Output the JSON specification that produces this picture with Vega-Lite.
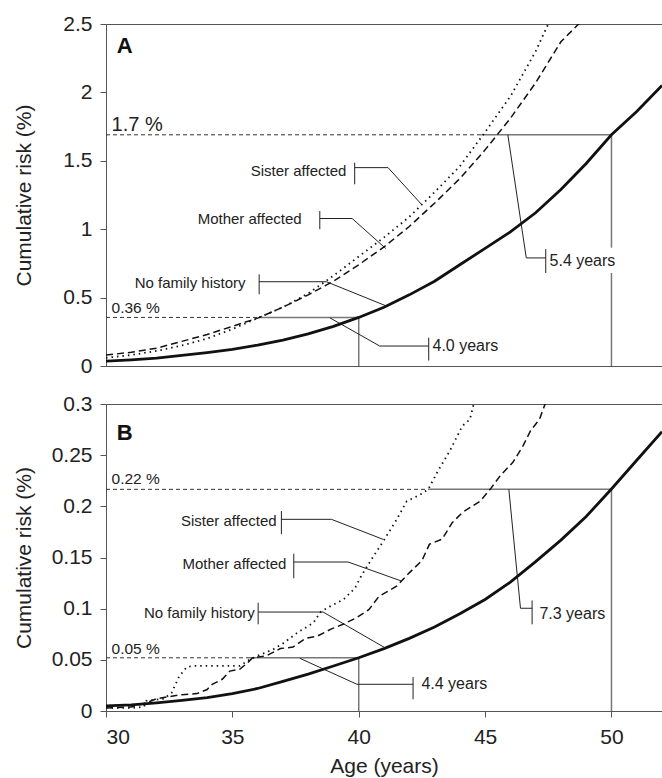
{
"$schema": "https://vega.github.io/schema/vega-lite/v6.json",
"padding": {"left": 12, "top": 12, "right": 0, "bottom": 0},
"config": {
  "font": "Liberation Sans",
  "view": {"stroke": "#555", "strokeWidth": 1},
  "axis": {"labelFont": "Liberation Sans", "titleFont": "Liberation Sans", "labelFontSize": 21, "titleFontSize": 21, "labelColor": "#222", "titleColor": "#222", "titleFontWeight": "normal", "domainColor": "#555", "tickColor": "#555", "grid": false, "tickSize": 6, "labelPadding": 8}
},
"spacing": 38,
"bounds": "flush",
"datasets": {
  "curvesA": [
    {"group":"No family history","age":30,"risk":0.035},{"group":"No family history","age":31,"risk":0.045},{"group":"No family history","age":32,"risk":0.058},{"group":"No family history","age":33,"risk":0.077},{"group":"No family history","age":34,"risk":0.098},{"group":"No family history","age":35,"risk":0.122},{"group":"No family history","age":36,"risk":0.153},{"group":"No family history","age":37,"risk":0.19},{"group":"No family history","age":38,"risk":0.235},{"group":"No family history","age":39,"risk":0.29},{"group":"No family history","age":40,"risk":0.355},{"group":"No family history","age":41,"risk":0.43},{"group":"No family history","age":42,"risk":0.52},{"group":"No family history","age":43,"risk":0.62},{"group":"No family history","age":44,"risk":0.74},{"group":"No family history","age":45,"risk":0.86},{"group":"No family history","age":46,"risk":0.98},{"group":"No family history","age":47,"risk":1.12},{"group":"No family history","age":48,"risk":1.29},{"group":"No family history","age":49,"risk":1.48},{"group":"No family history","age":50,"risk":1.69},{"group":"No family history","age":51,"risk":1.86},{"group":"No family history","age":52,"risk":2.05},
    {"group":"Sister affected","age":30,"risk":0.06},{"group":"Sister affected","age":31,"risk":0.08},{"group":"Sister affected","age":32,"risk":0.11},{"group":"Sister affected","age":33,"risk":0.15},{"group":"Sister affected","age":34,"risk":0.2},{"group":"Sister affected","age":35,"risk":0.27},{"group":"Sister affected","age":36,"risk":0.35},{"group":"Sister affected","age":37,"risk":0.43},{"group":"Sister affected","age":38,"risk":0.53},{"group":"Sister affected","age":39,"risk":0.66},{"group":"Sister affected","age":40,"risk":0.8},{"group":"Sister affected","age":41,"risk":0.94},{"group":"Sister affected","age":42,"risk":1.09},{"group":"Sister affected","age":43,"risk":1.27},{"group":"Sister affected","age":44,"risk":1.46},{"group":"Sister affected","age":45,"risk":1.71},{"group":"Sister affected","age":46,"risk":1.97},{"group":"Sister affected","age":47,"risk":2.3},{"group":"Sister affected","age":47.5,"risk":2.5},{"group":"Sister affected","age":48,"risk":2.75},
    {"group":"Mother affected","age":30,"risk":0.08},{"group":"Mother affected","age":31,"risk":0.1},{"group":"Mother affected","age":32,"risk":0.13},{"group":"Mother affected","age":33,"risk":0.18},{"group":"Mother affected","age":34,"risk":0.23},{"group":"Mother affected","age":35,"risk":0.29},{"group":"Mother affected","age":36,"risk":0.35},{"group":"Mother affected","age":37,"risk":0.43},{"group":"Mother affected","age":38,"risk":0.52},{"group":"Mother affected","age":39,"risk":0.62},{"group":"Mother affected","age":40,"risk":0.74},{"group":"Mother affected","age":41,"risk":0.87},{"group":"Mother affected","age":42,"risk":1.02},{"group":"Mother affected","age":43,"risk":1.19},{"group":"Mother affected","age":44,"risk":1.37},{"group":"Mother affected","age":45,"risk":1.58},{"group":"Mother affected","age":46,"risk":1.81},{"group":"Mother affected","age":47,"risk":2.07},{"group":"Mother affected","age":48,"risk":2.37},{"group":"Mother affected","age":48.7,"risk":2.5},{"group":"Mother affected","age":49,"risk":2.62}
  ],
  "curvesB": [
    {"group":"No family history","age":30,"risk":0.005},{"group":"No family history","age":31,"risk":0.006},{"group":"No family history","age":32,"risk":0.008},{"group":"No family history","age":33,"risk":0.0103},{"group":"No family history","age":34,"risk":0.013},{"group":"No family history","age":35,"risk":0.017},{"group":"No family history","age":36,"risk":0.022},{"group":"No family history","age":37,"risk":0.029},{"group":"No family history","age":38,"risk":0.036},{"group":"No family history","age":39,"risk":0.044},{"group":"No family history","age":40,"risk":0.052},{"group":"No family history","age":41,"risk":0.061},{"group":"No family history","age":42,"risk":0.071},{"group":"No family history","age":43,"risk":0.082},{"group":"No family history","age":44,"risk":0.095},{"group":"No family history","age":45,"risk":0.109},{"group":"No family history","age":46,"risk":0.126},{"group":"No family history","age":47,"risk":0.146},{"group":"No family history","age":48,"risk":0.167},{"group":"No family history","age":49,"risk":0.19},{"group":"No family history","age":50,"risk":0.217},{"group":"No family history","age":51,"risk":0.245},{"group":"No family history","age":52,"risk":0.273},
    {"group":"Sister affected","age":30,"risk":0.003},{"group":"Sister affected","age":31,"risk":0.003},{"group":"Sister affected","age":31.5,"risk":0.004},{"group":"Sister affected","age":31.6,"risk":0.01},{"group":"Sister affected","age":32.3,"risk":0.012},{"group":"Sister affected","age":32.6,"risk":0.018},{"group":"Sister affected","age":32.9,"risk":0.034},{"group":"Sister affected","age":33.2,"risk":0.043},{"group":"Sister affected","age":33.5,"risk":0.044},{"group":"Sister affected","age":35.3,"risk":0.044},{"group":"Sister affected","age":35.6,"risk":0.049},{"group":"Sister affected","age":36,"risk":0.054},{"group":"Sister affected","age":36.6,"risk":0.06},{"group":"Sister affected","age":37,"risk":0.066},{"group":"Sister affected","age":37.6,"risk":0.077},{"group":"Sister affected","age":38.2,"risk":0.086},{"group":"Sister affected","age":38.5,"risk":0.097},{"group":"Sister affected","age":38.85,"risk":0.102},{"group":"Sister affected","age":39.4,"risk":0.109},{"group":"Sister affected","age":39.85,"risk":0.12},{"group":"Sister affected","age":40.1,"risk":0.132},{"group":"Sister affected","age":40.5,"risk":0.148},{"group":"Sister affected","age":41,"risk":0.167},{"group":"Sister affected","age":41.5,"risk":0.187},{"group":"Sister affected","age":41.9,"risk":0.205},{"group":"Sister affected","age":42.4,"risk":0.211},{"group":"Sister affected","age":42.75,"risk":0.2166},{"group":"Sister affected","age":43.1,"risk":0.233},{"group":"Sister affected","age":43.6,"risk":0.254},{"group":"Sister affected","age":44.1,"risk":0.2785},{"group":"Sister affected","age":44.4,"risk":0.285},{"group":"Sister affected","age":44.55,"risk":0.3},{"group":"Sister affected","age":44.7,"risk":0.31},
    {"group":"Mother affected","age":30,"risk":0.003},{"group":"Mother affected","age":31,"risk":0.004},{"group":"Mother affected","age":31.6,"risk":0.008},{"group":"Mother affected","age":32,"risk":0.012},{"group":"Mother affected","age":32.5,"risk":0.014},{"group":"Mother affected","age":33,"risk":0.016},{"group":"Mother affected","age":33.6,"risk":0.017},{"group":"Mother affected","age":34,"risk":0.021},{"group":"Mother affected","age":34.2,"risk":0.026},{"group":"Mother affected","age":34.6,"risk":0.031},{"group":"Mother affected","age":34.9,"risk":0.039},{"group":"Mother affected","age":35.3,"risk":0.041},{"group":"Mother affected","age":35.6,"risk":0.047},{"group":"Mother affected","age":35.8,"risk":0.052},{"group":"Mother affected","age":36.35,"risk":0.054},{"group":"Mother affected","age":36.9,"risk":0.061},{"group":"Mother affected","age":37.4,"risk":0.0625},{"group":"Mother affected","age":37.9,"risk":0.071},{"group":"Mother affected","age":38.35,"risk":0.073},{"group":"Mother affected","age":38.9,"risk":0.08},{"group":"Mother affected","age":39.4,"risk":0.085},{"group":"Mother affected","age":39.9,"risk":0.091},{"group":"Mother affected","age":40.4,"risk":0.099},{"group":"Mother affected","age":40.8,"risk":0.112},{"group":"Mother affected","age":41.5,"risk":0.122},{"group":"Mother affected","age":42,"risk":0.135},{"group":"Mother affected","age":42.5,"risk":0.147},{"group":"Mother affected","age":42.8,"risk":0.163},{"group":"Mother affected","age":43.3,"risk":0.168},{"group":"Mother affected","age":43.7,"risk":0.184},{"group":"Mother affected","age":44.1,"risk":0.194},{"group":"Mother affected","age":44.8,"risk":0.205},{"group":"Mother affected","age":45.2,"risk":0.2166},{"group":"Mother affected","age":45.6,"risk":0.23},{"group":"Mother affected","age":46.1,"risk":0.243},{"group":"Mother affected","age":46.5,"risk":0.259},{"group":"Mother affected","age":46.8,"risk":0.274},{"group":"Mother affected","age":47.15,"risk":0.285},{"group":"Mother affected","age":47.45,"risk":0.305}
  ],
  "segmentsA": [
    {"kind":"reference","age":30,"risk":1.69,"age2":44.85,"risk2":1.69},
    {"kind":"reference","age":30,"risk":0.355,"age2":36.05,"risk2":0.355},
    {"kind":"guide","age":44.85,"risk":1.69,"age2":50,"risk2":1.69},
    {"kind":"guide","age":50,"risk":0,"age2":50,"risk2":0.68},
    {"kind":"guide","age":50,"risk":0.865,"age2":50,"risk2":1.69},
    {"kind":"guide","age":36.05,"risk":0.355,"age2":40,"risk2":0.355},
    {"kind":"guide","age":40,"risk":0,"age2":40,"risk2":0.355},
    {"kind":"leader","age":45.9,"risk":1.69,"age2":46.63,"risk2":0.79},
    {"kind":"leader","age":46.63,"risk":0.79,"age2":47.4,"risk2":0.79},
    {"kind":"leader","age":47.4,"risk":0.68,"age2":47.4,"risk2":0.855},
    {"kind":"leader","age":38.85,"risk":0.353,"age2":40.83,"risk2":0.146},
    {"kind":"leader","age":40.83,"risk":0.146,"age2":42.77,"risk2":0.146},
    {"kind":"leader","age":42.77,"risk":0.04,"age2":42.77,"risk2":0.207},
    {"kind":"leader","age":39.84,"risk":1.328,"age2":39.84,"risk2":1.486},
    {"kind":"leader","age":39.84,"risk":1.45,"age2":41.16,"risk2":1.45},
    {"kind":"leader","age":41.16,"risk":1.45,"age2":42.48,"risk2":1.182},
    {"kind":"leader","age":38.46,"risk":1.0,"age2":38.46,"risk2":1.133},
    {"kind":"leader","age":38.46,"risk":1.078,"age2":39.74,"risk2":1.078},
    {"kind":"leader","age":39.74,"risk":1.078,"age2":41.07,"risk2":0.859},
    {"kind":"leader","age":36.06,"risk":0.524,"age2":36.06,"risk2":0.67},
    {"kind":"leader","age":36.06,"risk":0.616,"age2":38.72,"risk2":0.616},
    {"kind":"leader","age":38.72,"risk":0.616,"age2":41.09,"risk2":0.439}
  ],
  "segmentsB": [
    {"kind":"reference","age":30,"risk":0.2166,"age2":42.74,"risk2":0.2166},
    {"kind":"reference","age":30,"risk":0.052,"age2":35.7,"risk2":0.052},
    {"kind":"guide","age":42.74,"risk":0.2166,"age2":50,"risk2":0.2166},
    {"kind":"guide","age":50,"risk":0,"age2":50,"risk2":0.2166},
    {"kind":"guide","age":35.7,"risk":0.052,"age2":40,"risk2":0.052},
    {"kind":"guide","age":40,"risk":0,"age2":40,"risk2":0.052},
    {"kind":"leader","age":45.94,"risk":0.2166,"age2":46.4,"risk2":0.1004},
    {"kind":"leader","age":46.4,"risk":0.1004,"age2":46.86,"risk2":0.1004},
    {"kind":"leader","age":46.86,"risk":0.0847,"age2":46.86,"risk2":0.108},
    {"kind":"leader","age":37.67,"risk":0.0515,"age2":39.93,"risk2":0.0261},
    {"kind":"leader","age":39.93,"risk":0.0261,"age2":42.15,"risk2":0.0261},
    {"kind":"leader","age":42.15,"risk":0.0114,"age2":42.15,"risk2":0.0332},
    {"kind":"leader","age":36.94,"risk":0.1727,"age2":36.94,"risk2":0.1954},
    {"kind":"leader","age":36.94,"risk":0.1873,"age2":38.92,"risk2":0.1873},
    {"kind":"leader","age":38.92,"risk":0.1873,"age2":40.96,"risk2":0.1678},
    {"kind":"leader","age":37.43,"risk":0.1297,"age2":37.43,"risk2":0.1537},
    {"kind":"leader","age":37.43,"risk":0.1456,"age2":39.58,"risk2":0.1456},
    {"kind":"leader","age":39.58,"risk":0.1456,"age2":41.69,"risk2":0.127},
    {"kind":"leader","age":36.02,"risk":0.0847,"age2":36.02,"risk2":0.1058},
    {"kind":"leader","age":36.02,"risk":0.0967,"age2":38.59,"risk2":0.0967},
    {"kind":"leader","age":38.59,"risk":0.0967,"age2":41.03,"risk2":0.0619}
  ],
  "labelsA": [
    {"kind":"panel","label":"A","age":30.43,"risk":2.34},
    {"kind":"threshold-large","label":"1.7 %","age":30.22,"risk":1.76},
    {"kind":"threshold","label":"0.36 %","age":30.22,"risk":0.426},
    {"kind":"series","label":"Sister affected","age":39.51,"risk":1.425},
    {"kind":"series","label":"Mother affected","age":37.74,"risk":1.072},
    {"kind":"series","label":"No family history","age":35.52,"risk":0.609},
    {"kind":"interval","label":"5.4 years","age":47.55,"risk":0.768},
    {"kind":"interval","label":"4.0 years","age":42.92,"risk":0.146}
  ],
  "labelsB": [
    {"kind":"panel","label":"B","age":30.43,"risk":0.272},
    {"kind":"threshold","label":"0.22 %","age":30.22,"risk":0.2264},
    {"kind":"threshold","label":"0.05 %","age":30.22,"risk":0.0603},
    {"kind":"series","label":"Sister affected","age":36.75,"risk":0.1857},
    {"kind":"series","label":"Mother affected","age":37.14,"risk":0.144},
    {"kind":"series","label":"No family history","age":35.89,"risk":0.096},
    {"kind":"interval","label":"7.3 years","age":47.15,"risk":0.095},
    {"kind":"interval","label":"4.4 years","age":42.48,"risk":0.0264}
  ]
},
"vconcat": [
  {
    "width": 556, "height": 342,
    "encoding": {
      "x": {"field": "age", "type": "quantitative", "scale": {"domain": [30, 52], "nice": false, "zero": false}, "axis": {"title": null, "labels": false, "ticks": false}},
      "y": {"field": "risk", "type": "quantitative", "scale": {"domain": [0, 2.5], "nice": false}, "axis": {"title": "Cumulative risk (%)", "values": [0, 0.5, 1, 1.5, 2, 2.5], "format": "~g", "titleX": -72}}
    },
    "layer": [
      {"data": {"name": "segmentsA"}, "transform": [{"filter": "datum.kind === 'reference'"}], "mark": {"type": "rule", "color": "#333", "strokeWidth": 1, "strokeDash": [4, 3]}, "encoding": {"x2": {"field": "age2"}, "y2": {"field": "risk2"}}},
      {"data": {"name": "segmentsA"}, "transform": [{"filter": "datum.kind === 'guide'"}], "mark": {"type": "rule", "color": "#777", "strokeWidth": 1.5}, "encoding": {"x2": {"field": "age2"}, "y2": {"field": "risk2"}}},
      {"data": {"name": "segmentsA"}, "transform": [{"filter": "datum.kind === 'leader'"}], "mark": {"type": "rule", "color": "#222", "strokeWidth": 1}, "encoding": {"x2": {"field": "age2"}, "y2": {"field": "risk2"}}},
      {"data": {"name": "curvesA"}, "transform": [{"filter": "datum.group === 'Sister affected'"}], "mark": {"type": "line", "clip": true, "color": "#111", "strokeWidth": 1.8, "strokeDash": [1.5, 4]}},
      {"data": {"name": "curvesA"}, "transform": [{"filter": "datum.group === 'Mother affected'"}], "mark": {"type": "line", "clip": true, "color": "#111", "strokeWidth": 1.5, "strokeDash": [7, 4]}},
      {"data": {"name": "curvesA"}, "transform": [{"filter": "datum.group === 'No family history'"}], "mark": {"type": "line", "clip": true, "color": "#111", "strokeWidth": 2.8}},
      {"data": {"name": "labelsA"}, "transform": [{"filter": "datum.kind === 'panel'"}], "mark": {"type": "text", "align": "left", "baseline": "middle", "fontSize": 22, "fontWeight": "bold", "color": "#111"}, "encoding": {"text": {"field": "label"}}},
      {"data": {"name": "labelsA"}, "transform": [{"filter": "datum.kind === 'threshold-large'"}], "mark": {"type": "text", "align": "left", "baseline": "middle", "fontSize": 20, "color": "#222"}, "encoding": {"text": {"field": "label"}}},
      {"data": {"name": "labelsA"}, "transform": [{"filter": "datum.kind === 'threshold'"}], "mark": {"type": "text", "align": "left", "baseline": "middle", "fontSize": 15.5, "color": "#222"}, "encoding": {"text": {"field": "label"}}},
      {"data": {"name": "labelsA"}, "transform": [{"filter": "datum.kind === 'series'"}], "mark": {"type": "text", "align": "right", "baseline": "middle", "fontSize": 15, "color": "#222"}, "encoding": {"text": {"field": "label"}}},
      {"data": {"name": "labelsA"}, "transform": [{"filter": "datum.kind === 'interval'"}], "mark": {"type": "text", "align": "left", "baseline": "middle", "fontSize": 16, "color": "#222"}, "encoding": {"text": {"field": "label"}}}
    ]
  },
  {
    "width": 556, "height": 307,
    "encoding": {
      "x": {"field": "age", "type": "quantitative", "scale": {"domain": [30, 52], "nice": false, "zero": false}, "axis": {"title": "Age (years)", "values": [30, 35, 40, 45, 50], "labelPadding": 9, "titlePadding": 8}},
      "y": {"field": "risk", "type": "quantitative", "scale": {"domain": [0, 0.3], "nice": false}, "axis": {"title": "Cumulative risk (%)", "values": [0, 0.05, 0.1, 0.15, 0.2, 0.25, 0.3], "format": "~g", "titleX": -72}}
    },
    "layer": [
      {"data": {"name": "segmentsB"}, "transform": [{"filter": "datum.kind === 'reference'"}], "mark": {"type": "rule", "color": "#333", "strokeWidth": 1, "strokeDash": [4, 3]}, "encoding": {"x2": {"field": "age2"}, "y2": {"field": "risk2"}}},
      {"data": {"name": "segmentsB"}, "transform": [{"filter": "datum.kind === 'guide'"}], "mark": {"type": "rule", "color": "#777", "strokeWidth": 1.5}, "encoding": {"x2": {"field": "age2"}, "y2": {"field": "risk2"}}},
      {"data": {"name": "segmentsB"}, "transform": [{"filter": "datum.kind === 'leader'"}], "mark": {"type": "rule", "color": "#222", "strokeWidth": 1}, "encoding": {"x2": {"field": "age2"}, "y2": {"field": "risk2"}}},
      {"data": {"name": "curvesB"}, "transform": [{"filter": "datum.group === 'Sister affected'"}], "mark": {"type": "line", "clip": true, "color": "#111", "strokeWidth": 1.8, "strokeDash": [1.5, 4]}},
      {"data": {"name": "curvesB"}, "transform": [{"filter": "datum.group === 'Mother affected'"}], "mark": {"type": "line", "clip": true, "color": "#111", "strokeWidth": 1.5, "strokeDash": [7, 4]}},
      {"data": {"name": "curvesB"}, "transform": [{"filter": "datum.group === 'No family history'"}], "mark": {"type": "line", "clip": true, "color": "#111", "strokeWidth": 2.8}},
      {"data": {"name": "labelsB"}, "transform": [{"filter": "datum.kind === 'panel'"}], "mark": {"type": "text", "align": "left", "baseline": "middle", "fontSize": 22, "fontWeight": "bold", "color": "#111"}, "encoding": {"text": {"field": "label"}}},
      {"data": {"name": "labelsB"}, "transform": [{"filter": "datum.kind === 'threshold'"}], "mark": {"type": "text", "align": "left", "baseline": "middle", "fontSize": 15.5, "color": "#222"}, "encoding": {"text": {"field": "label"}}},
      {"data": {"name": "labelsB"}, "transform": [{"filter": "datum.kind === 'series'"}], "mark": {"type": "text", "align": "right", "baseline": "middle", "fontSize": 15, "color": "#222"}, "encoding": {"text": {"field": "label"}}},
      {"data": {"name": "labelsB"}, "transform": [{"filter": "datum.kind === 'interval'"}], "mark": {"type": "text", "align": "left", "baseline": "middle", "fontSize": 16, "color": "#222"}, "encoding": {"text": {"field": "label"}}}
    ]
  }
]
}
